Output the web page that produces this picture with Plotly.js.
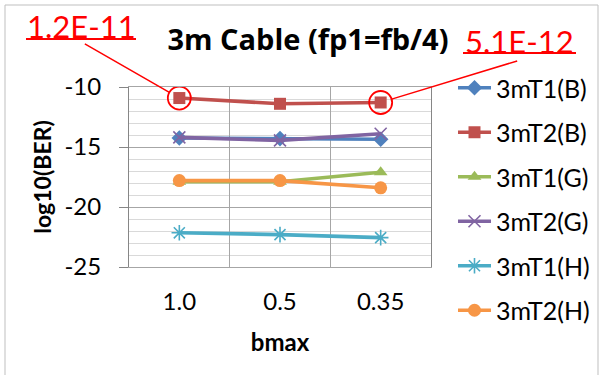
<!DOCTYPE html>
<html><head><meta charset="utf-8">
<script src="https://cdn.plot.ly/plotly-3.0.1.min.js"></script>
<style>html,body{margin:0;padding:0;background:#fff}#chart{width:602px;height:375px}</style>
</head><body><div id="chart"></div>
<script>
const categories = ['1.0', '0.5', '0.35'];
const seriesNames = ['3mT1(B)', '3mT2(B)', '3mT1(G)', '3mT2(G)', '3mT1(H)', '3mT2(H)'];
const t1b = [-14.25, -14.3, -14.35];
const t2b = [-10.92, -11.4, -11.29];
const t1g = [-17.9, -17.9, -17.1];
const t2g = [-14.2, -14.45, -13.9];
const t1h = [-22.15, -22.3, -22.55];
const t2h = [-17.8, -17.8, -18.4];
const yTicks = [-10, -15, -20, -25];
const noteLeft = '1.2E-11';
const noteRight = '5.1E-12';

const colors = ['#4F81BD', '#C0504D', '#9BBB59', '#8064A2', '#4BACC6', '#F79646'];
const symbols = ['diamond', 'square', 'triangle-up', 'x-thin-open', 'asterisk-open', 'circle'];
const sizes = [12, 12, 12, 12, 13, 13];
const values = [t1b, t2b, t1g, t2g, t1h, t2h];
const FONT = 'Lato, "Open Sans", sans-serif';

// plot area in pixels (129..431 x 87..267)
const L = 129, R = 431, T = 87, B = 267;
const px = v => (v - L) / (R - L);
const py = v => (B - v) / (B - T);

const traces = values.map((v, i) => ({
  type: 'scatter', mode: 'lines+markers', name: seriesNames[i],
  x: categories, y: v, legendgroup: 'g' + i,
  line: {color: colors[i], width: 3.6},
  marker: {symbol: symbols[i], size: sizes[i], color: colors[i],
           line: {color: colors[i], width: (i === 3 || i === 4) ? 1.6 : 0}}
}));

const red = '#FF0000';
const iLeft = categories.indexOf('1.0');
const iRight = categories.indexOf('0.35');
const layout = {
  width: 602, height: 375,
  margin: {l: L, r: 602 - R, t: T, b: 375 - B},
  paper_bgcolor: '#fff', plot_bgcolor: '#fff',
  font: {family: FONT, size: 23, color: '#000'},
  showlegend: true,
  title: {text: '<b>3m Cable (fp1=fb/4)</b>', font: {family: '"Open Sans", sans-serif', size: 29, color: '#000'},
          x: 308 / 602, xanchor: 'center', xref: 'container', y: 1 - 40 / 375, yanchor: 'middle', yref: 'container'},
  xaxis: {
    type: 'category', range: [-0.5, 2.5], tickson: 'boundaries',
    showgrid: true, gridcolor: '#A6A6A6', gridwidth: 1,
    showline: true, linecolor: '#A6A6A6', mirror: true, ticks: '', ticklen: 0,
    tickfont: {family: FONT, size: 24}, fixedrange: true, ticklabelstandoff: 13,
    title: {text: '<b>bmax</b>', font: {family: FONT, size: 24}, standoff: 20}
  },
  yaxis: {
    range: [-25, -10], tickvals: yTicks, ticktext: yTicks.map(String),
    showgrid: true, gridcolor: '#A6A6A6', gridwidth: 1,
    minor: {dtick: 1, showgrid: true, gridcolor: '#D9D9D9', gridwidth: 1},
    showline: true, linecolor: '#868686', mirror: true,
    ticks: 'outside', ticklen: 9, tickcolor: '#868686', zeroline: false,
    tickfont: {family: FONT, size: 24}, fixedrange: true, ticklabelstandoff: 13,
    title: {text: '<b>log10(BER)</b>', font: {family: FONT, size: 23}, standoff: 6}
  },
  legend: {
    x: 453 / 602, xref: 'container', y: 1 - 65 / 375, yref: 'container',
    xanchor: 'left', yanchor: 'top', maxheight: 370,
    font: {family: FONT, size: 25}, tracegroupgap: 9, itemwidth: 33,
    bgcolor: 'rgba(0,0,0,0)'
  },
  annotations: [
    {xref: 'paper', yref: 'paper', x: px(81), y: py(26), xanchor: 'center', yanchor: 'middle',
     text: noteLeft, showarrow: false, font: {family: FONT, size: 31, color: red}},
    {xref: 'paper', yref: 'paper', x: px(519), y: py(41), xanchor: 'center', yanchor: 'middle',
     text: noteRight, showarrow: false, font: {family: FONT, size: 31, color: red}},
    {xref: 'x', yref: 'y', x: iLeft, y: t2b[iLeft], text: '', showarrow: true, arrowhead: 0,
     arrowwidth: 1.5, arrowcolor: red, ax: -96, ay: -55, standoff: 11.5},
    {xref: 'x', yref: 'y', x: iRight, y: t2b[iRight], text: '', showarrow: true, arrowhead: 0,
     arrowwidth: 1.5, arrowcolor: red, ax: 138, ay: -42, standoff: 11.5}
  ],
  shapes: [
    {type: 'line', xref: 'paper', yref: 'paper', x0: px(26), x1: px(136), y0: py(39), y1: py(39),
     line: {color: red, width: 2}},
    {type: 'line', xref: 'paper', yref: 'paper', x0: px(463), x1: px(576), y0: py(53), y1: py(53),
     line: {color: red, width: 2}},
    {type: 'circle', xref: 'x', yref: 'y', xsizemode: 'pixel', ysizemode: 'pixel',
     xanchor: iLeft, yanchor: t2b[iLeft], x0: -11.5, x1: 11.5, y0: -11.5, y1: 11.5,
     line: {color: red, width: 1.8}},
    {type: 'circle', xref: 'x', yref: 'y', xsizemode: 'pixel', ysizemode: 'pixel',
     xanchor: iRight, yanchor: t2b[iRight], x0: -11.5, x1: 11.5, y0: -11.5, y1: 11.5,
     line: {color: red, width: 1.8}},
    {type: 'rect', xref: 'paper', yref: 'paper',
     x0: px(5), x1: px(598), y0: py(380), y1: py(5),
     line: {color: '#BFBFBF', width: 1}, layer: 'below'}
  ]
};

Plotly.newPlot('chart', traces, layout, {staticPlot: true, displayModeBar: false});
</script></body></html>
